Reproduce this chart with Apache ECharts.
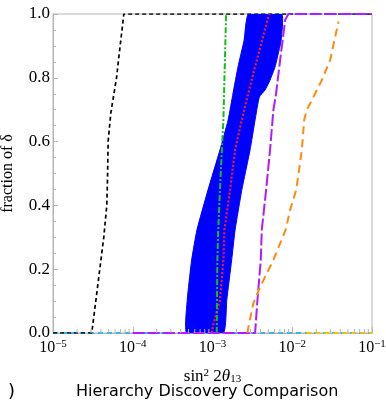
<!DOCTYPE html>
<html>
<head>
<meta charset="utf-8">
<script src="https://cdn.jsdelivr.net/npm/echarts@6/dist/echarts.min.js"></script>
<style>
  html, body { margin: 0; padding: 0; background: #fff; }
  #chart { width: 386px; height: 406px; }
</style>
</head>
<body>
<div id="chart"></div>
<script>
// x: sin^2 2theta13, y: fraction of delta
const yTicks = [0, 0.2, 0.4, 0.6, 0.8, 1.0];

const blackCurve = [[1e-5, 0], [3.06e-5, 0], [3.44e-5, 0.1], [3.86e-5, 0.2], [4.33e-5, 0.3], [4.73e-5, 0.4],
  [4.84e-5, 0.5], [4.91e-5, 0.6], [5.31e-5, 0.69], [6.26e-5, 0.8], [6.59e-5, 0.85], [7.73e-5, 1], [1e-1, 1]];

const bandLeft = [[4.74e-4, 0], [4.82e-4, 0.103], [5.48e-4, 0.229], [6.38e-4, 0.323], [8.77e-4, 0.448],
  [1.24e-3, 0.574], [1.57e-3, 0.668], [1.81e-3, 0.752], [2.09e-3, 0.835], [2.49e-3, 0.918], [2.82e-3, 1]];
const bandRight = [[1.37e-3, 0], [1.51e-3, 0.103], [1.74e-3, 0.229], [1.92e-3, 0.323], [2.33e-3, 0.448],
  [2.96e-3, 0.574], [3.42e-3, 0.668], [3.87e-3, 0.74], [4.57e-3, 0.762], [5.27e-3, 0.793], [6.10e-3, 0.835],
  [6.71e-3, 0.878], [7.26e-3, 0.918], [7.40e-3, 1]];

const redCurve = [[9.8e-4, 0], [1.02e-3, 0.025], [1.24e-3, 0.103], [1.37e-3, 0.229], [1.41e-3, 0.323],
  [1.66e-3, 0.448], [1.92e-3, 0.574], [2.33e-3, 0.668], [2.49e-3, 0.699], [3.42e-3, 0.835], [5.13e-3, 1]];

const greenCurve = [[1.13e-3, 0], [1.15e-3, 0.229], [1.18e-3, 0.323], [1.24e-3, 0.448], [1.31e-3, 0.574],
  [1.37e-3, 0.668], [1.48e-3, 1]];

const purpleCurve = [[1e-4, 0], [3.42e-3, 0], [3.66e-3, 0.103], [4.03e-3, 0.229], [4.15e-3, 0.323],
  [4.70e-3, 0.448], [5.27e-3, 0.574], [5.80e-3, 0.699], [6.28e-3, 0.752], [7.05e-3, 0.856], [8.15e-3, 0.981],
  [8.95e-3, 1], [1e-1, 1]];

const orangeCurve = [[2.74e-3, 0], [2.82e-3, 0.019], [3.26e-3, 0.094], [3.95e-3, 0.144], [5.80e-3, 0.229],
  [8.26e-3, 0.323], [9.41e-3, 0.386], [1.12e-2, 0.448], [1.32e-2, 0.574], [1.41e-2, 0.668], [1.52e-2, 0.699],
  [1.76e-2, 0.730], [2.35e-2, 0.793], [2.99e-2, 0.856], [3.80e-2, 0.976]];

const cyanFloor = [[1e-5, 0], [1e-1, 0]];
const yellowFloor = [[1.5e-2, 0], [1e-1, 0]];

// log minor tick positions (2..9 per decade)
const minorTicks = [];
for (let e = -5; e < -1; e++) {
  for (let m = 2; m <= 9; m++) minorTicks.push([m * Math.pow(10, e), 0]);
}

const AXIS = '#b4b4b4';
const SERIF = '"Liberation Serif", "DejaVu Serif", serif';

function curve(data, color, width, dash, z) {
  return {
    type: 'line', data, symbol: 'none', z, silent: true,
    lineStyle: { color, width, type: dash, cap: 'butt' },
  };
}

const chart = echarts.init(document.getElementById('chart'), null, { renderer: 'canvas' });

chart.setOption({
  animation: false,
  title: [
    { text: ')', left: 3, top: 378, textStyle: { fontFamily: 'DejaVu Sans', fontSize: 18, fontWeight: 'normal', color: '#000' } },
    { text: 'Hierarchy Discovery Comparison', left: 71, top: 379,
      textStyle: { fontFamily: 'DejaVu Sans', fontSize: 16, fontWeight: 'normal', color: '#000' } },
  ],
  grid: { left: 53, right: 14, top: 14, bottom: 73, show: true, borderColor: AXIS, borderWidth: 1,
    containLabel: false, outerBoundsMode: 'none' },
  xAxis: {
    type: 'log', logBase: 10, min: 1e-5, max: 1e-1,
    name: '{t|sin}{sup|2}{t| 2}{it|θ}{sub|13}',
    nameLocation: 'middle', nameGap: 35,
    nameTextStyle: {
      rich: {
        t: { fontFamily: SERIF, fontSize: 17, color: '#000' },
        it: { fontFamily: SERIF, fontSize: 17, fontStyle: 'italic', color: '#000' },
        sup: { fontFamily: SERIF, fontSize: 11, color: '#000', verticalAlign: 'top' },
        sub: { fontFamily: SERIF, fontSize: 11, color: '#000', verticalAlign: 'bottom' },
      },
    },
    axisLine: { lineStyle: { color: AXIS } },
    axisTick: { inside: true, length: 6, lineStyle: { color: AXIS } },
    splitLine: { show: false },
    axisLabel: {
      margin: 6,
      formatter: v => '{b|10}{s|' + String(Math.round(Math.log10(v))).replace('-', '−') + '}',
      rich: {
        b: { fontFamily: SERIF, fontSize: 16, color: '#000', lineHeight: 17 },
        s: { fontFamily: SERIF, fontSize: 11, color: '#000', verticalAlign: 'top', lineHeight: 17 },
      },
    },
  },
  yAxis: {
    type: 'value', min: 0, max: 1, interval: 0.2,
    name: 'fraction of δ', nameLocation: 'middle', nameGap: 37, nameRotate: 90,
    nameTextStyle: { fontFamily: SERIF, fontSize: 16, color: '#000' },
    axisLine: { show: true, lineStyle: { color: AXIS } },
    axisTick: { show: true, inside: true, length: 5, lineStyle: { color: AXIS } },
    minorTick: { show: true, splitNumber: 4, length: 3, lineStyle: { color: AXIS } },
    splitLine: { show: false },
    axisLabel: {
      margin: 3, fontFamily: SERIF, fontSize: 17, color: '#000',
      formatter: v => v.toFixed(1),
    },
  },
  series: [
    curve(cyanFloor, '#38b4e8', 2, [5, 4], 2),
    curve(blackCurve, '#000000', 1.7, [4, 3], 3),
    curve(yellowFloor, '#f2c200', 2, [5, 4], 3),
    {
      type: 'custom', z: 4, silent: true, clip: true,
      data: bandLeft.concat(bandRight.slice().reverse()),
      renderItem(params, api) {
        if (params.dataIndex !== 0) return;
        const pts = bandLeft.concat(bandRight.slice().reverse()).map(p => api.coord(p));
        return { type: 'polygon', shape: { points: pts, smooth: 0.15 }, style: { fill: '#0000ff', stroke: '#0000ff', lineWidth: 1 } };
      },
    },
    curve(redCurve, '#ff1a1a', 2.2, [2, 2], 5),
    curve(greenCurve, '#12c012', 2, [6, 2, 2, 2], 5),
    curve(purpleCurve, '#b01cff', 2, [12, 3], 6),
    curve(orangeCurve, '#ff8a10', 2, [8, 5], 6),
    {
      type: 'custom', z: 7, silent: true, clip: false,
      data: minorTicks,
      renderItem(params, api) {
        const p = api.coord([api.value(0), 0]);
        return { type: 'line', shape: { x1: p[0], y1: p[1], x2: p[0], y2: p[1] - 4 }, style: { stroke: AXIS, lineWidth: 1 } };
      },
    },
  ],
});
</script>
</body>
</html>
